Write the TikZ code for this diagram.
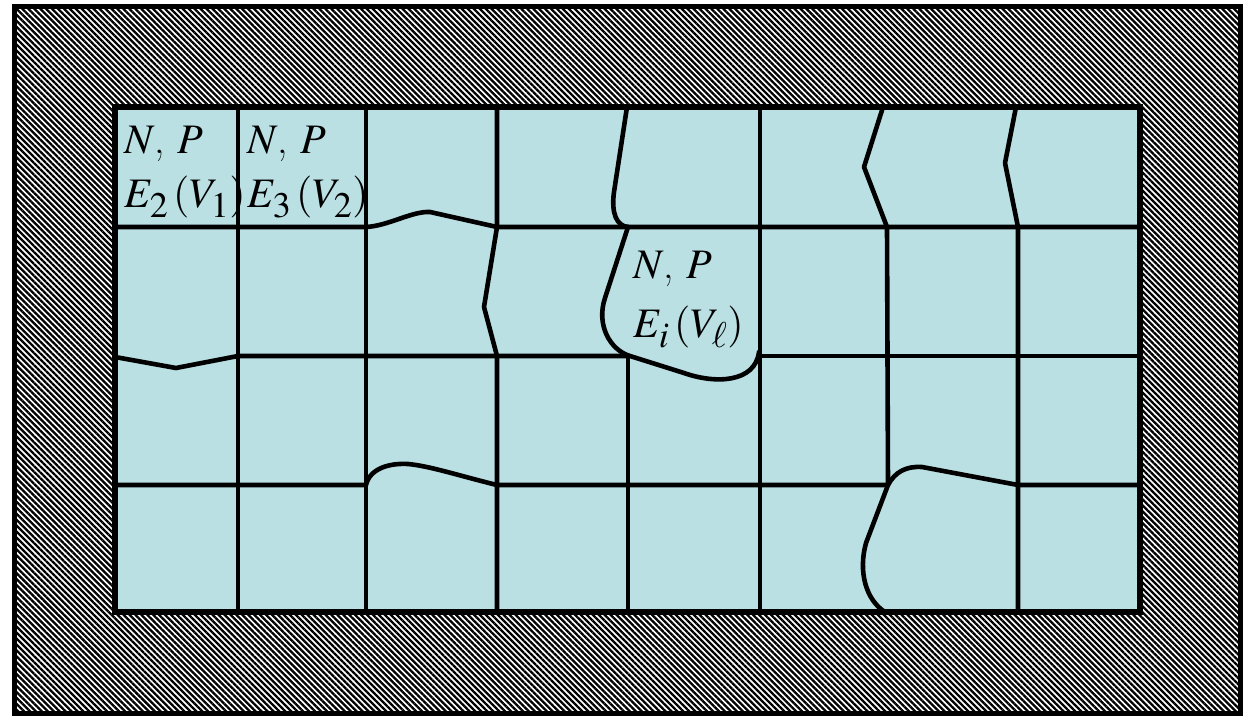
\documentclass[tikz,border=0pt]{standalone}
\usepackage{mathptmx}
\usetikzlibrary{patterns.meta}
\DeclareMathSizes{42}{42}{36}{30}
\definecolor{cellfill}{RGB}{186,224,228}
\tikzset{
  grid/.style={line width=4.6pt, line join=round, line cap=round},
  frame/.style={line width=5.5pt},
  lab/.style={anchor=base west, inner sep=0pt, font=\fontsize{42}{50}\selectfont}
}
\newcommand{\lsb}[1]{_{\lower4pt\hbox{$\scriptstyle #1$}}}
\begin{document}
\begin{tikzpicture}[x=1pt,y=-1pt]
\useasboundingbox (0,0) rectangle (1251,717);
% hatched outer frame
\draw[frame, pattern={Lines[angle=-45,distance=4.2pt,line width=2.3pt]}]
  (14.5,6.5) rectangle (1240.5,713.5);
% inner field
\fill[cellfill] (115,107) rectangle (1140,612);
% vertical boundaries
\draw[grid] (238,107) -- (238,612);
\draw[grid] (366,107) -- (366,612);
\draw[grid] (497,107) -- (497,227) -- (484,307) -- (497,356) -- (497,612);
\draw[grid] (627,107) -- (614,192) .. controls (611,214) and (617,226) .. (628,227);
\draw[grid] (628,227) -- (605,298) .. controls (596,325) and (610,350) .. (630,356)
  -- (684,373) .. controls (715,384) and (755,383) .. (759,352);
\draw[grid] (628,356) -- (628,612);
\draw[grid] (760,107) -- (760,612);
\draw[grid] (883,107) -- (864,167) -- (887,227) -- (888,485) -- (866,543)
  .. controls (858,572) and (866,600) .. (885,612);
\draw[grid] (1016,107) -- (1005,163) -- (1018,227) -- (1018,612);
% horizontal boundaries
\draw[grid] (115,227) -- (366,227) .. controls (388,226) and (412,211) .. (430,212)
  -- (497,227) -- (1140,227);
\draw[grid] (115,357) -- (176,368) -- (238,356) -- (628,356);
\draw[grid] (760,356) -- (1140,356);
\draw[grid] (115,485) -- (366,485) .. controls (370,468) and (390,463) .. (408,464)
  .. controls (430,466) and (460,476) .. (497,485) -- (888,485)
  .. controls (895,472) and (906,466) .. (922,467) -- (1018,485) -- (1140,485);
% inner frame
\draw[frame] (115,107) rectangle (1140,612);
% labels
\node[lab] (n1) at (124,153) {$N$, $P$};
\node[lab] (e1) at (124,207) {$E\lsb{2}\,(V\lsb{1})$};
\node[lab] (n2) at (247,153) {$N$, $P$};
\node[lab] (e2) at (247,207) {$E\lsb{3}\,(V\lsb{2})$};
\node[lab] (n3) at (633,278) {$N$, $P$};
\node[lab] (e3) at (633,337) {$E\lsb{i}\,(V\lsb{\ell})$};
\end{tikzpicture}
\end{document}
